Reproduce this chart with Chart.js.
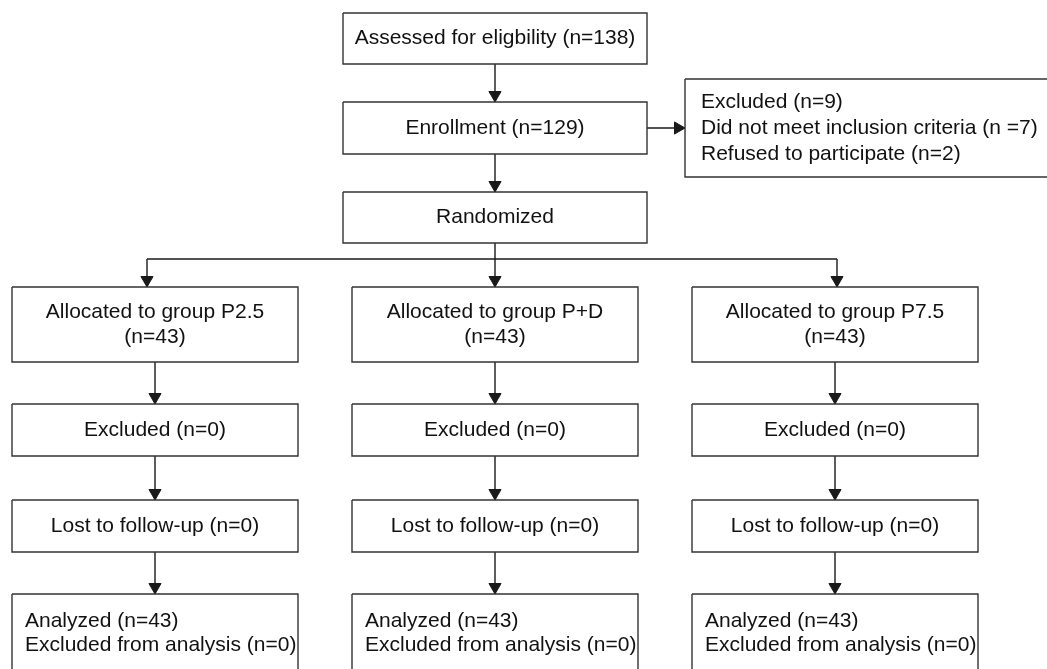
<!DOCTYPE html>
<html>
<head>
<meta charset="utf-8">
<script src="https://cdn.jsdelivr.net/npm/chart.js@4.4.1/dist/chart.umd.min.js"></script>
<style>
    html, body { margin: 0; padding: 0; background: #fff; }
    #wrap { width: 1047px; height: 669px; position: relative; }
</style>
</head>
<body>
<div id="wrap"><canvas id="flow"></canvas></div>
<script>
// counts shown in the flow diagram
const groups = ['P2.5', 'P+D', 'P7.5'];
const assessed = 138;
const enrolled = 129;
const excludedTotal = 9;
const notMeetCriteria = 7;
const refused = 2;
const allocated = [43, 43, 43];
const excludedAfter = [0, 0, 0];
const lostFollowUp = [0, 0, 0];
const analyzed = [43, 43, 43];
const excludedAnalysis = [0, 0, 0];

// layout in axis units (x 0..1047, y 0..669 from the top)
const mainLeft = 343, mainRight = 647;
const mainTop = [13, 102, 192];
const mainBottom = [64, 154, 243];
const sideLeft = 685, sideRight = 1060, sideTop = 79, sideBottom = 177;
const colLeft = [12, 352, 692];
const colWidth = 286;
const rowTop = [287, 404, 500, 594];
const rowBottom = [362, 456, 552, 720];
const splitY = 259;
const dropX = [147, 495, 837];

const ink = '#1a1a1a';
const boxInk = '#333333';
const fontSpec = '21px "Liberation Sans", Arial, sans-serif';
const arrowR = 7;

// boxes: edges + text lines
const boxes = [];
boxes.push({ l: mainLeft, r: mainRight, t: mainTop[0], b: mainBottom[0], lines: ['Assessed for eligbility (n=' + assessed + ')'], align: 'center' });
boxes.push({ l: mainLeft, r: mainRight, t: mainTop[1], b: mainBottom[1], lines: ['Enrollment (n=' + enrolled + ')'], align: 'center' });
boxes.push({ l: mainLeft, r: mainRight, t: mainTop[2], b: mainBottom[2], lines: ['Randomized'], align: 'center' });
boxes.push({ l: sideLeft, r: sideRight, t: sideTop, b: sideBottom, lh: 26, padX: 16, align: 'left',
    lines: ['Excluded (n=' + excludedTotal + ')', 'Did not meet inclusion criteria (n =' + notMeetCriteria + ')', 'Refused to participate (n=' + refused + ')'] });
groups.forEach(function(g, i) {
    const l = colLeft[i], r = colLeft[i] + colWidth;
    boxes.push({ l: l, r: r, t: rowTop[0], b: rowBottom[0], lh: 25, align: 'center', lines: ['Allocated to group ' + g, '(n=' + allocated[i] + ')'] });
    boxes.push({ l: l, r: r, t: rowTop[1], b: rowBottom[1], align: 'center', lines: ['Excluded (n=' + excludedAfter[i] + ')'] });
    boxes.push({ l: l, r: r, t: rowTop[2], b: rowBottom[2], align: 'center', lines: ['Lost to follow-up (n=' + lostFollowUp[i] + ')'] });
    boxes.push({ l: l, r: r, t: rowTop[3], b: rowBottom[3], lh: 24, padX: 13, align: 'left', cy: rowTop[3] + 39,
        lines: ['Analyzed (n=' + analyzed[i] + ')', 'Excluded from analysis (n=' + excludedAnalysis[i] + ')'] });
});

// connectors: polyline + whether the last point carries an arrowhead
const mainX = (mainLeft + mainRight) / 2;
const midEnroll = (mainTop[1] + mainBottom[1]) / 2;
const connectors = [
    { pts: [[mainX, mainBottom[0]], [mainX, mainTop[1]]], arrow: true },
    { pts: [[mainX, mainBottom[1]], [mainX, mainTop[2]]], arrow: true },
    { pts: [[mainRight, midEnroll], [sideLeft, midEnroll]], arrow: true },
    { pts: [[mainX, mainBottom[2]], [mainX, rowTop[0]]], arrow: true },
    { pts: [[dropX[0], splitY], [dropX[2], splitY]], arrow: false },
    { pts: [[dropX[0], splitY], [dropX[0], rowTop[0]]], arrow: true },
    { pts: [[dropX[2], splitY], [dropX[2], rowTop[0]]], arrow: true }
];
colLeft.forEach(function(l) {
    const cx = l + colWidth / 2;
    for (let k = 0; k < 3; k++) {
        connectors.push({ pts: [[cx, rowBottom[k]], [cx, rowTop[k + 1]]], arrow: true });
    }
});

const datasets = [];
boxes.forEach(function(b) {
    datasets.push({
        data: [{x: b.l, y: b.t}, {x: b.r, y: b.t}, {x: b.r, y: b.b}, {x: b.l, y: b.b}, {x: b.l, y: b.t}],
        showLine: true, borderColor: boxInk, borderWidth: 1.4, pointRadius: 0,
        borderJoinStyle: 'miter', tension: 0, fill: false
    });
});
const heads = [], headRot = [];
connectors.forEach(function(c) {
    datasets.push({
        data: c.pts.map(function(p) { return {x: p[0], y: p[1]}; }),
        showLine: true, borderColor: ink, borderWidth: 1.4, pointRadius: 0, tension: 0, fill: false
    });
    if (c.arrow) {
        const a = c.pts[c.pts.length - 2], z = c.pts[c.pts.length - 1];
        if (a[0] === z[0]) {
            heads.push({x: z[0], y: z[1] - arrowR});
            headRot.push(180);
        } else {
            heads.push({x: z[0] - arrowR, y: z[1]});
            headRot.push(90);
        }
    }
});
datasets.push({
    data: heads, pointStyle: 'triangle', pointRadius: arrowR, pointRotation: headRot,
    pointBackgroundColor: ink, pointBorderColor: ink, pointBorderWidth: 1, showLine: false
});

const boxText = {
    id: 'boxText',
    afterDatasetsDraw(chart) {
        const ctx = chart.ctx;
        const xs = chart.scales.x, ys = chart.scales.y;
        ctx.save();
        ctx.font = fontSpec;
        ctx.fillStyle = '#111';
        ctx.textBaseline = 'middle';
        boxes.forEach(function(b) {
            const lh = b.lh || 25;
            const cy = b.cy !== undefined ? b.cy : (b.t + b.b) / 2;
            const n = b.lines.length;
            b.lines.forEach(function(line, i) {
                const y = ys.getPixelForValue(cy + (i - (n - 1) / 2) * lh);
                if (b.align === 'left') {
                    ctx.textAlign = 'left';
                    ctx.fillText(line, xs.getPixelForValue(b.l + b.padX), y);
                } else {
                    ctx.textAlign = 'center';
                    ctx.fillText(line, xs.getPixelForValue((b.l + b.r) / 2), y);
                }
            });
        });
        ctx.restore();
    }
};

new Chart(document.getElementById('flow'), {
    type: 'scatter',
    data: { datasets: datasets },
    plugins: [boxText],
    options: {
        responsive: true,
        maintainAspectRatio: false,
        animation: false,
        events: [],
        layout: { padding: 0, autoPadding: false },
        plugins: { legend: { display: false }, tooltip: { enabled: false } },
        scales: {
            x: { type: 'linear', min: 0, max: 1047, display: false },
            y: { type: 'linear', min: 0, max: 669, reverse: true, display: false }
        }
    }
});
</script>
</body>
</html>
